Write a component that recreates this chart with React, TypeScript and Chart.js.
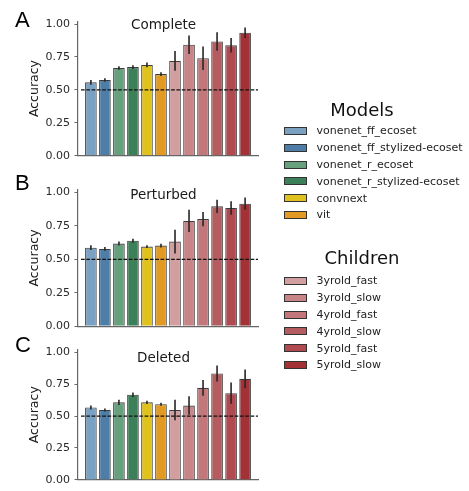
import React, { useEffect, useRef } from 'react';
import { Chart, registerables } from 'chart.js';

Chart.register(...registerables);

const modelNames = [
  'vonenet_ff_ecoset',
  'vonenet_ff_stylized-ecoset',
  'vonenet_r_ecoset',
  'vonenet_r_stylized-ecoset',
  'convnext',
  'vit',
];
const childNames = ['3yrold_fast', '3yrold_slow', '4yrold_fast', '4yrold_slow', '5yrold_fast', '5yrold_slow'];
const categories = [...modelNames, ...childNames];

const modelColors = ['#7aa0c2', '#4e7ea8', '#66a07d', '#3b8058', '#e0c21f', '#e29a22'];
const childColors = ['#d39ea0', '#c98487', '#c2777b', '#b55c60', '#b04a50', '#a33236'];
const barColors = [...modelColors, ...childColors];

const completeValues = [0.557, 0.575, 0.666, 0.673, 0.689, 0.62, 0.72, 0.843, 0.74, 0.868, 0.838, 0.934];
const completeErrors = [0.018, 0.014, 0.014, 0.014, 0.018, 0.014, 0.075, 0.07, 0.09, 0.07, 0.055, 0.04];

const perturbedValues = [0.587, 0.577, 0.617, 0.639, 0.595, 0.602, 0.632, 0.786, 0.8, 0.895, 0.883, 0.915];
const perturbedErrors = [0.018, 0.014, 0.015, 0.015, 0.01, 0.014, 0.088, 0.083, 0.053, 0.05, 0.05, 0.046];

const deletedValues = [0.567, 0.547, 0.607, 0.667, 0.607, 0.592, 0.547, 0.582, 0.721, 0.833, 0.679, 0.791];
const deletedErrors = [0.015, 0.012, 0.02, 0.018, 0.012, 0.012, 0.08, 0.072, 0.062, 0.063, 0.083, 0.074];

const yTicks = [0, 0.25, 0.5, 0.75, 1.0];
const chanceLevel = 0.5;

const FONT = '"DejaVu Sans", sans-serif';

type PanelProps = {
  letter: string;
  title: string;
  values: number[];
  errors: number[];
  top: number;
  height: number;
  padTop: number;
  padBottom: number;
  letterBaseline: number;
  titleBaseline: number;
};

function Panel(props: PanelProps) {
  const ref = useRef<HTMLCanvasElement | null>(null);
  useEffect(() => {
    const canvas = ref.current;
    if (!canvas) return;
    const overlay = {
      id: 'overlay',
      afterDatasetsDraw(chart: any) {
        const { ctx, chartArea } = chart;
        const xs = chart.scales.x;
        const ys = chart.scales.y;
        ctx.save();
        // error bars
        ctx.strokeStyle = '#262626';
        ctx.lineWidth = 1.6;
        props.values.forEach((v, i) => {
          const e = props.errors[i];
          const px = xs.getPixelForValue(i);
          ctx.beginPath();
          ctx.moveTo(px, ys.getPixelForValue(v - e));
          ctx.lineTo(px, ys.getPixelForValue(v + e));
          ctx.stroke();
        });
        // chance line
        const cy = ys.getPixelForValue(chanceLevel);
        ctx.strokeStyle = '#111';
        ctx.lineWidth = 1.2;
        ctx.setLineDash([3.7, 1.6]);
        ctx.beginPath();
        ctx.moveTo(chartArea.left + 3, cy);
        ctx.lineTo(chartArea.right, cy);
        ctx.stroke();
        ctx.setLineDash([]);
        // title
        ctx.fillStyle = '#1a1a1a';
        ctx.font = `13.5px ${FONT}`;
        ctx.textAlign = 'center';
        ctx.textBaseline = 'alphabetic';
        ctx.fillText(props.title, chartArea.left + (chartArea.right - chartArea.left) * 0.475, props.titleBaseline);
        // letter
        ctx.fillStyle = '#000';
        ctx.font = `22px "Liberation Sans", Arial, sans-serif`;
        ctx.textAlign = 'left';
        ctx.fillText(props.letter, 15, props.letterBaseline);
        ctx.restore();
      },
    };
    const chart = new Chart(canvas, {
      type: 'bar',
      data: {
        datasets: [
          {
            data: props.values.map((v, i) => ({ x: i, y: v })),
            backgroundColor: barColors,
            borderColor: '#3d3d3d',
            borderWidth: 1.1,
            barPercentage: 0.83,
            categoryPercentage: 1,
          },
        ],
      },
      options: {
        animation: false,
        responsive: false,
        devicePixelRatio: 1,
        layout: { padding: { left: 0, right: 12, top: props.padTop, bottom: props.padBottom } },
        plugins: { legend: { display: false }, tooltip: { enabled: false }, title: { display: false } },
        scales: {
          x: {
            type: 'linear',
            offset: false,
            min: -0.92,
            max: 11.92,
            afterBuildTicks: (s: any) => {
              s.ticks = categories.map((_, i) => ({ value: i }));
            },
            afterFit: (s: any) => {
              s.height = 0;
            },
            ticks: { display: false },
            grid: { display: false, offset: false },
            border: { display: true, color: '#666', width: 1.2 },
          },
          y: {
            min: 0,
            max: 1.02,
            afterBuildTicks: (s: any) => {
              s.ticks = yTicks.map((v) => ({ value: v }));
            },
            afterFit: (s: any) => {
              s.width = 78;
            },
            ticks: {
              callback: (v: any) => Number(v).toFixed(2),
              font: { family: FONT, size: 11 },
              color: '#2a2a2a',
              padding: 4.5,
            },
            grid: { drawOnChartArea: false, drawTicks: true, tickLength: 3.5, color: '#666', lineWidth: 1 },
            border: { display: true, color: '#666', width: 1.2 },
            title: {
              display: true,
              text: 'Accuracy',
              font: { family: FONT, size: 12.5 },
              color: '#1a1a1a',
              padding: { top: 27, bottom: 0 },
            },
          },
        },
      },
      plugins: [overlay],
    });
    return () => chart.destroy();
  }, []);
  return (
    <canvas
      ref={ref}
      width={270}
      height={props.height}
      style={{ position: 'absolute', left: 0, top: props.top, width: 270, height: props.height }}
    />
  );
}

function LegendBlock(props: { title: string; names: string[]; colors: string[]; titleTop: number; rowTop: number }) {
  const rowH = 16.8;
  return (
    <>
      <div
        style={{
          position: 'absolute',
          left: 262,
          width: 200,
          top: props.titleTop,
          lineHeight: '20px',
          textAlign: 'center',
          fontFamily: FONT,
          fontSize: 18,
          color: '#111',
        }}
      >
        {props.title}
      </div>
      {props.names.map((n, i) => (
        <div
          key={n}
          style={{
            position: 'absolute',
            left: 284,
            top: props.rowTop + i * rowH,
            height: rowH,
            display: 'flex',
            alignItems: 'center',
            fontFamily: FONT,
            fontSize: 11,
            color: '#222',
            whiteSpace: 'nowrap',
          }}
        >
          <span
            style={{
              display: 'inline-block',
              boxSizing: 'border-box',
              width: 23,
              height: 8,
              background: props.colors[i],
              border: '1.2px solid #333',
              marginRight: 9.5,
            }}
          />
          {n}
        </div>
      ))}
    </>
  );
}

export default function App() {
  return (
    <div style={{ position: 'absolute', left: 0, top: 0, width: 469, height: 491, background: '#fff', overflow: 'hidden' }}>
      <Panel
        letter="A"
        title="Complete"
        values={completeValues}
        errors={completeErrors}
        top={0}
        height={175}
        padTop={21.4}
        padBottom={19.3}
        letterBaseline={26.7}
        titleBaseline={29.3}
      />
      <Panel
        letter="B"
        title="Perturbed"
        values={perturbedValues}
        errors={perturbedErrors}
        top={165}
        height={175}
        padTop={24.6}
        padBottom={13.7}
        letterBaseline={25}
        titleBaseline={34.3}
      />
      <Panel
        letter="C"
        title="Deleted"
        values={deletedValues}
        errors={deletedErrors}
        top={330}
        height={161}
        padTop={19.6}
        padBottom={4.7}
        letterBaseline={21.7}
        titleBaseline={32.3}
      />
      <LegendBlock title="Models" names={modelNames} colors={modelColors} titleTop={100} rowTop={122.6} />
      <LegendBlock title="Children" names={childNames} colors={childColors} titleTop={248} rowTop={272.6} />
    </div>
  );
}
